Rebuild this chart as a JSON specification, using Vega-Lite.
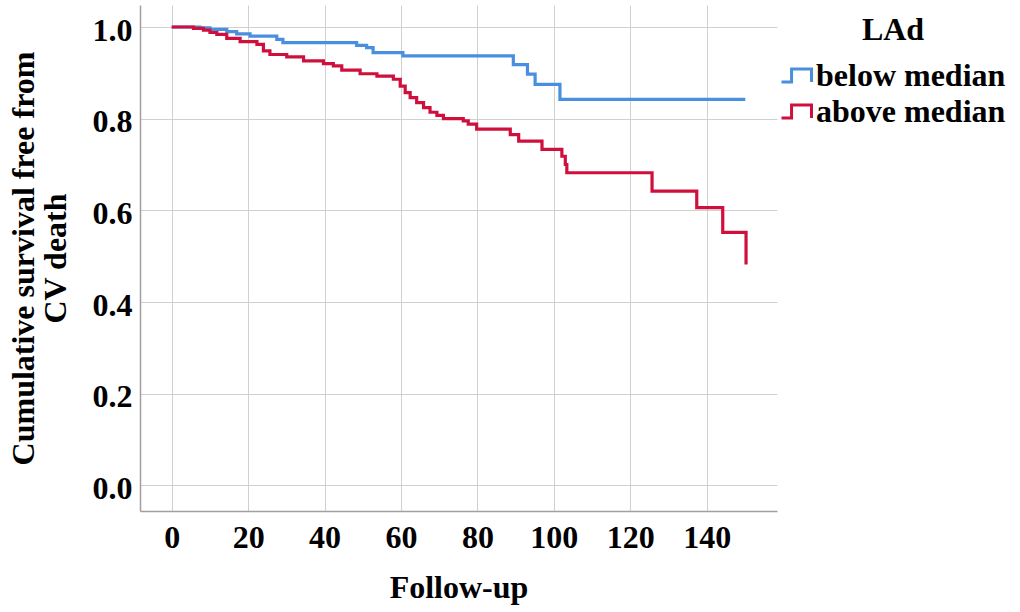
{
  "$schema": "https://vega.github.io/schema/vega-lite/v6.json",
  "width": 637,
  "height": 506,
  "autosize": {"type": "none"},
  "padding": {"left": 140, "top": 5, "right": 243, "bottom": 101},
  "background": "white",
  "config": {"view": {"stroke": null}, "font": "Liberation Serif"},
  "data": {"values": [
    {"time": 0, "surv": 1.0, "group": "below median"},
    {"time": 7.4, "surv": 0.998, "group": "below median"},
    {"time": 10, "surv": 0.995, "group": "below median"},
    {"time": 14.4, "surv": 0.99, "group": "below median"},
    {"time": 17, "surv": 0.985, "group": "below median"},
    {"time": 20.5, "surv": 0.98, "group": "below median"},
    {"time": 27.5, "surv": 0.973, "group": "below median"},
    {"time": 29.1, "surv": 0.966, "group": "below median"},
    {"time": 48.4, "surv": 0.96, "group": "below median"},
    {"time": 51, "surv": 0.955, "group": "below median"},
    {"time": 52.7, "surv": 0.944, "group": "below median"},
    {"time": 60.5, "surv": 0.937, "group": "below median"},
    {"time": 89.4, "surv": 0.918, "group": "below median"},
    {"time": 93.1, "surv": 0.897, "group": "below median"},
    {"time": 95.1, "surv": 0.875, "group": "below median"},
    {"time": 101.6, "surv": 0.842, "group": "below median"},
    {"time": 150.1, "surv": 0.842, "group": "below median"},
    {"time": 0, "surv": 1.0, "group": "above median"},
    {"time": 5.7, "surv": 0.997, "group": "above median"},
    {"time": 8.3, "surv": 0.993, "group": "above median"},
    {"time": 10, "surv": 0.988, "group": "above median"},
    {"time": 11.8, "surv": 0.984, "group": "above median"},
    {"time": 14.4, "surv": 0.975, "group": "above median"},
    {"time": 17.9, "surv": 0.968, "group": "above median"},
    {"time": 22.3, "surv": 0.962, "group": "above median"},
    {"time": 24, "surv": 0.948, "group": "above median"},
    {"time": 25.7, "surv": 0.94, "group": "above median"},
    {"time": 30.1, "surv": 0.935, "group": "above median"},
    {"time": 34.5, "surv": 0.926, "group": "above median"},
    {"time": 39.7, "surv": 0.92, "group": "above median"},
    {"time": 42.3, "surv": 0.915, "group": "above median"},
    {"time": 44.5, "surv": 0.906, "group": "above median"},
    {"time": 49.3, "surv": 0.898, "group": "above median"},
    {"time": 53.7, "surv": 0.893, "group": "above median"},
    {"time": 58, "surv": 0.886, "group": "above median"},
    {"time": 59.8, "surv": 0.871, "group": "above median"},
    {"time": 61.1, "surv": 0.857, "group": "above median"},
    {"time": 62.4, "surv": 0.846, "group": "above median"},
    {"time": 64.1, "surv": 0.835, "group": "above median"},
    {"time": 65.9, "surv": 0.824, "group": "above median"},
    {"time": 67.6, "surv": 0.814, "group": "above median"},
    {"time": 69.4, "surv": 0.807, "group": "above median"},
    {"time": 71.1, "surv": 0.8, "group": "above median"},
    {"time": 76.3, "surv": 0.795, "group": "above median"},
    {"time": 77.6, "surv": 0.788, "group": "above median"},
    {"time": 79.8, "surv": 0.777, "group": "above median"},
    {"time": 88.6, "surv": 0.765, "group": "above median"},
    {"time": 90.8, "surv": 0.751, "group": "above median"},
    {"time": 96.9, "surv": 0.733, "group": "above median"},
    {"time": 102.1, "surv": 0.718, "group": "above median"},
    {"time": 103, "surv": 0.7, "group": "above median"},
    {"time": 103.4, "surv": 0.682, "group": "above median"},
    {"time": 125.7, "surv": 0.642, "group": "above median"},
    {"time": 137.4, "surv": 0.606, "group": "above median"},
    {"time": 144.2, "surv": 0.552, "group": "above median"},
    {"time": 150.3, "surv": 0.482, "group": "above median"}
  ]},
  "mark": {"type": "line", "interpolate": "step-after", "strokeWidth": 3.2},
  "encoding": {
    "x": {
      "field": "time", "type": "quantitative",
      "scale": {"domain": [-8.3, 158.4], "nice": false, "zero": false},
      "axis": {
        "values": [0, 20, 40, 60, 80, 100, 120, 140], "format": "d",
        "ticks": false, "labelPadding": 11, "labelFontSize": 32, "labelFontWeight": "bold", "labelColor": "black",
        "labelFont": "Liberation Serif",
        "grid": true, "gridColor": "#d0d0d0", "domainColor": "#a0a0a0", "domainWidth": 1.5,
        "title": "Follow-up", "titleFontSize": 32, "titleFontWeight": "bold", "titleColor": "black",
        "titleFont": "Liberation Serif", "titleBaseline": "alphabetic", "titleY": 86
      }
    },
    "y": {
      "field": "surv", "type": "quantitative",
      "scale": {"domain": [-0.056, 1.048], "nice": false, "zero": false},
      "axis": {
        "values": [0, 0.2, 0.4, 0.6, 0.8, 1.0], "format": ".1f",
        "ticks": false, "labelPadding": 8, "labelOffset": 3, "labelFontSize": 32, "labelFontWeight": "bold", "labelColor": "black",
        "labelFont": "Liberation Serif",
        "grid": true, "gridColor": "#d0d0d0", "domainColor": "#a0a0a0", "domainWidth": 1.5,
        "title": ["Cumulative survival free from", "CV death"], "titleFontSize": 32, "titleFontWeight": "bold", "titleColor": "black",
        "titleFont": "Liberation Serif", "titleBaseline": "alphabetic", "titleX": -107, "titleLineHeight": 32, "titleAlign": "center", "titleAngle": -90
      }
    },
    "color": {
      "field": "group", "type": "nominal",
      "scale": {"domain": ["below median", "above median"], "range": ["#4A8FDD", "#D0103C"]},
      "legend": {
        "orient": "none", "legendX": 640, "legendY": 10,
        "title": "LAd", "titleFontSize": 32, "titleFontWeight": "bold", "titleColor": "black", "titleFont": "Liberation Serif",
        "titleAnchor": "middle", "titlePadding": 12, "titleLimit": 0,
        "labelFontSize": 32, "labelFontWeight": "bold", "labelColor": "black", "labelFont": "Liberation Serif",
        "labelLimit": 0,
        "symbolType": "M-1,0.43L-0.33,0.43L-0.33,-0.43L1,-0.43L1,0.43",
        "symbolSize": 900, "symbolStrokeWidth": 3, "symbolFillColor": "transparent",
        "labelOffset": 3, "rowPadding": 3, "padding": 0
      }
    }
  }
}
